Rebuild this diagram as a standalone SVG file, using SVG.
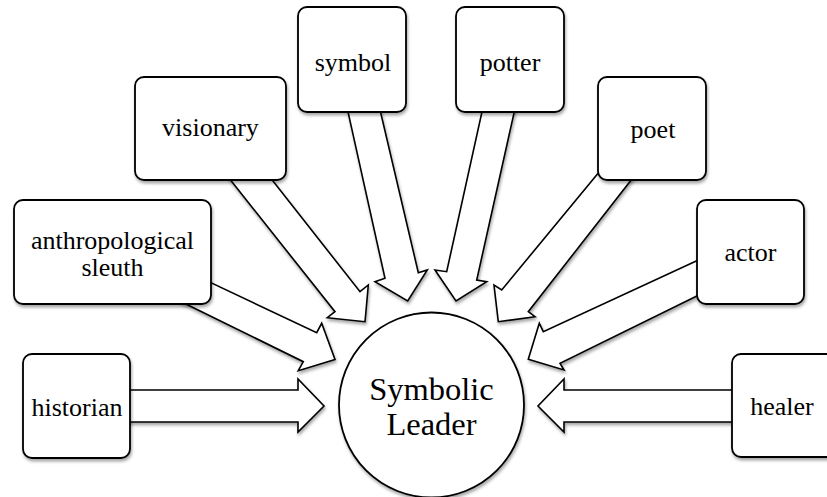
<svg xmlns="http://www.w3.org/2000/svg" width="827" height="497" viewBox="0 0 827 497">
<defs>
<filter id="sh" x="-10%" y="-10%" width="130%" height="130%">
<feDropShadow dx="1" dy="2.5" stdDeviation="1.5" flood-color="#000" flood-opacity="0.35"/>
</filter>
<style>
.box{fill:#fff;stroke:#000;stroke-width:1.8;filter:url(#sh)}
.arr{fill:#fff;stroke:#000;stroke-width:1.6;stroke-linejoin:miter;filter:url(#sh)}
.lbl{font-family:'Liberation Serif','Times New Roman',serif;font-size:26px;fill:#000;text-anchor:middle}
.big{font-family:'Liberation Serif','Times New Roman',serif;font-size:32.5px;fill:#000;text-anchor:middle}
</style>
</defs>
<rect width="827" height="497" fill="#fff"/>
<g id="connectors">
<polygon class="arr" points="120,390 298,390 298,379 324,406 298,432 298,422 120,422"/>
<polygon class="arr" points="742,390 564,390 564,379 538,406 564,432 564,422 742,422"/>
<polygon class="arr" points="200.7,277.9 316.7,332.7 321.7,323.3 335,359.5 298.3,370.7 303.3,361.7 176.2,299.2"/>
<polygon class="arr" points="224.2,172.1 335,311.7 327.3,317.7 365,321.7 368.3,285 360,291.7 265.9,172.1"/>
<polygon class="arr" points="345.7,101.3 385,278.3 375,281.7 407.7,301 427.3,270 418.3,272.7 378,101.3"/>
<polygon class="arr" points="484.3,101.3 446.7,271.7 435,270 456,301 486.7,281.7 476.7,280 516.6,101.3"/>
<polygon class="arr" points="604.3,165.7 501.7,290 494,285 498.3,321.7 535,316.7 528.3,311.7 637.4,172"/>
<polygon class="arr" points="707.6,255.7 543.3,331.7 539.3,323.3 528.3,359.3 564,370 560,363.3 707.5,290.7"/>
</g>
<g id="center">
<circle cx="431.5" cy="405" r="92.5" fill="#fff" stroke="#000" stroke-width="1.8" filter="url(#sh)"/>
<text class="big" x="431.5" y="400">Symbolic</text>
<text class="big" x="431.5" y="435">Leader</text>
</g>
<g id="historian">
<rect class="box" x="23" y="354" width="107" height="104" rx="9"/>
<text class="lbl" x="77" y="415.5">historian</text>
</g>
<g id="sleuth">
<rect class="box" x="14" y="200" width="197" height="104" rx="9"/>
<text class="lbl" x="112.5" y="248.5">anthropological</text>
<text class="lbl" x="112.5" y="276">sleuth</text>
</g>
<g id="visionary">
<rect class="box" x="135" y="77" width="151" height="103" rx="9"/>
<text class="lbl" x="210.5" y="136">visionary</text>
</g>
<g id="symbol">
<rect class="box" x="298" y="7" width="108" height="105" rx="9"/>
<text class="lbl" x="353" y="71">symbol</text>
</g>
<g id="potter">
<rect class="box" x="456" y="7" width="108" height="105" rx="9"/>
<text class="lbl" x="510" y="70.5">potter</text>
</g>
<g id="poet">
<rect class="box" x="598" y="77" width="108" height="103" rx="9"/>
<text class="lbl" x="653" y="138">poet</text>
</g>
<g id="actor">
<rect class="box" x="697" y="200" width="107" height="104" rx="9"/>
<text class="lbl" x="750.5" y="261">actor</text>
</g>
<g id="healer">
<rect class="box" x="732" y="354" width="107" height="103" rx="9"/>
<text class="lbl" x="782" y="415">healer</text>
</g>
</svg>
